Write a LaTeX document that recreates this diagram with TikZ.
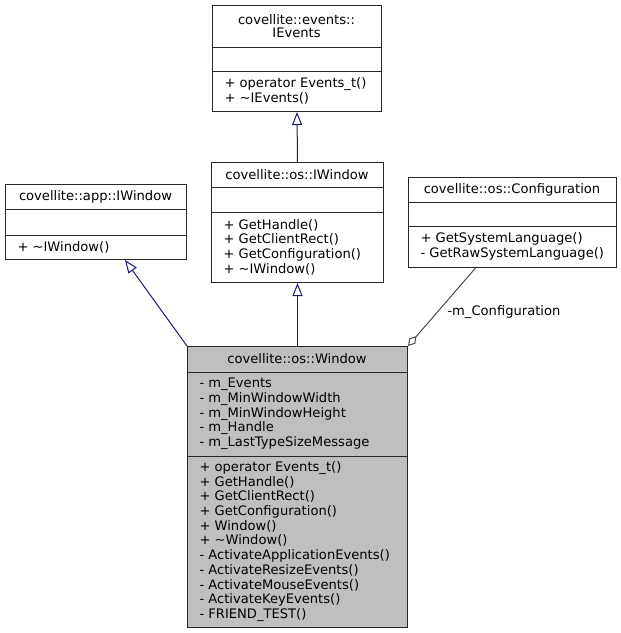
\documentclass[tikz,border=0pt]{standalone}
\usepackage{fontspec}
\setmainfont{DejaVu Sans}
\usetikzlibrary{arrows.meta}

\begin{document}
\begin{tikzpicture}[x=1pt,y=-1pt,line width=1pt,
  clase/.style={draw=black!85,inner sep=0pt,anchor=north west},
  titulo/.style={inner sep=0pt,align=center},
  miembros/.style={inner sep=0pt,align=left,anchor=west},
  herencia/.style={draw={rgb,255:red,25;green,25;blue,112},
    -{Triangle[open,length=13pt,width=10pt,fill=white]}},
  agregacion/.style={draw=black!70,
    -{Diamond[open,length=13pt,width=8pt,fill=white]}},
  font=\fontsize{13.1}{14.7}\selectfont]

\useasboundingbox (0,0) rectangle (621,633);

% IEvents
\node[clase,minimum width=169pt,minimum height=106pt] (evt) at (212,5) {};
\draw[black!85] (212,47) -- (381,47);
\draw[black!85] (212,71) -- (381,71);
\node[titulo,font=\fontsize{13.1}{13.5}\selectfont] (evt-tit) at (296.5,26) {covellite::events::\\IEvents};
\node[miembros] (evt-met) at (224,91) {+ operator Events\_t()\\+ \textasciitilde IEvents()};

% os::IWindow
\node[clase,minimum width=172pt,minimum height=120pt] (iwin) at (211,162) {};
\draw[black!85] (211,187) -- (383,187);
\draw[black!85] (211,212) -- (383,212);
\node[titulo] (iwin-tit) at (297,174.5) {covellite::os::IWindow};
\node[miembros] (iwin-met) at (223,247) {+ GetHandle()\\+ GetClientRect()\\+ GetConfiguration()\\+ \textasciitilde IWindow()};

% app::IWindow
\node[clase,minimum width=181pt,minimum height=75pt] (app) at (5,184) {};
\draw[black!85] (5,209) -- (186,209);
\draw[black!85] (5,235) -- (186,235);
\node[titulo] (app-tit) at (95.5,196.5) {covellite::app::IWindow};
\node[miembros] (app-met) at (17,247) {+ \textasciitilde IWindow()};

% os::Configuration
\node[clase,minimum width=208pt,minimum height=90pt] (cfg) at (408,177) {};
\draw[black!85] (408,202) -- (616,202);
\draw[black!85] (408,226) -- (616,226);
\node[titulo] (cfg-tit) at (512,189.5) {covellite::os::Configuration};
\node[miembros] (cfg-met) at (420,246.5) {+ GetSystemLanguage()\\- GetRawSystemLanguage()};

% os::Window
\node[clase,fill=black!25,minimum width=220pt,minimum height=281pt] (win) at (187,346) {};
\draw[black!85] (187,372) -- (407,372);
\draw[black!85] (187,456) -- (407,456);
\node[titulo] (win-tit) at (297,359) {covellite::os::Window};
\node[miembros] (win-atr) at (199,414) {- m\_Events\\- m\_MinWindowWidth\\- m\_MinWindowHeight\\- m\_Handle\\- m\_LastTypeSizeMessage};
\node[miembros] (win-met) at (199,541.5) {+ operator Events\_t()\\+ GetHandle()\\+ GetClientRect()\\+ GetConfiguration()\\+ Window()\\+ \textasciitilde Window()\\- ActivateApplicationEvents()\\- ActivateResizeEvents()\\- ActivateMouseEvents()\\- ActivateKeyEvents()\\- FRIEND\_TEST()};

% Relaciones
\draw[herencia] (iwin.north) -- (evt.south);
\draw[herencia] (win.north) -- (iwin.south);
\draw[herencia] (win.north west) -- ([xshift=120pt]app.south west);
\draw[agregacion] ([xshift=-37pt]cfg.south) -- (win.north east);
\node[anchor=west,inner sep=0pt] (cfg-rol) at (447,312) {-m\_Configuration};

\end{tikzpicture}
\end{document}
